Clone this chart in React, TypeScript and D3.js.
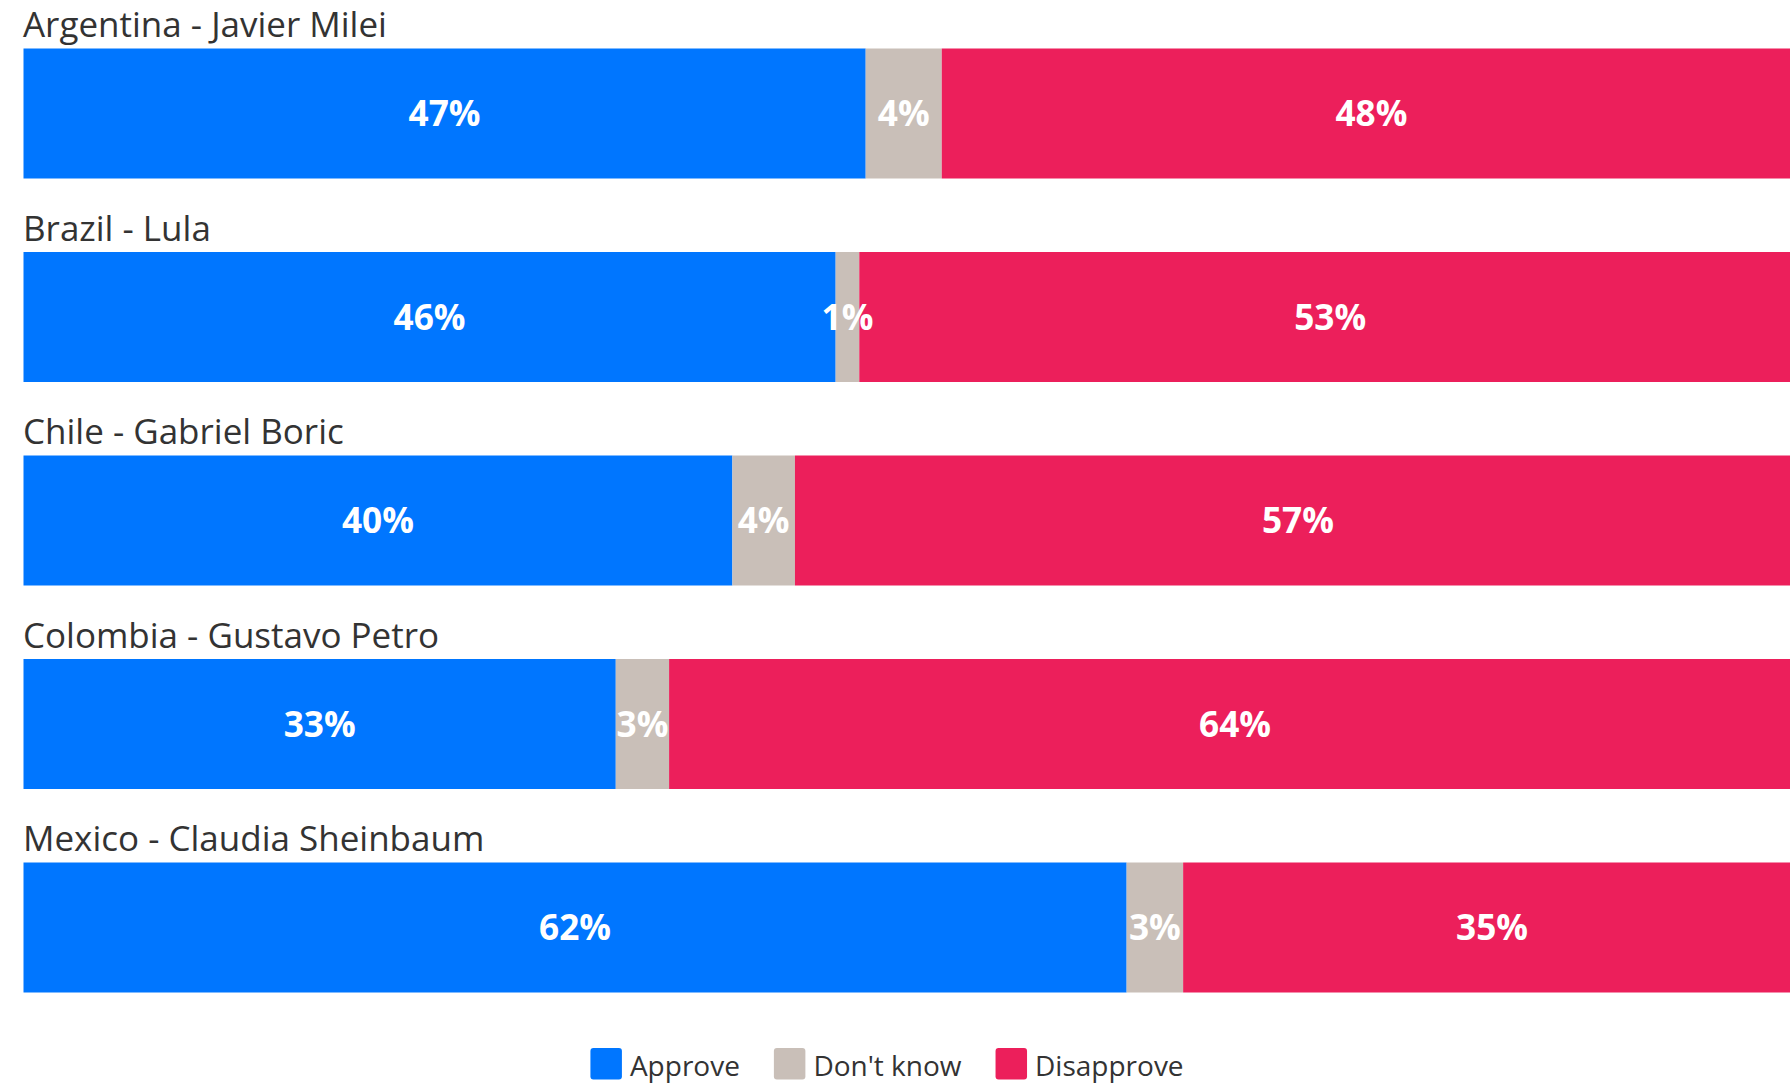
import React, { useEffect, useRef } from "react";
import * as d3 from "d3";

const categories = [
  "Argentina - Javier Milei",
  "Brazil - Lula",
  "Chile - Gabriel Boric",
  "Colombia - Gustavo Petro",
  "Mexico - Claudia Sheinbaum",
];
const approve = [47.38, 45.69, 39.88, 33.32, 62.06];
const dontKnow = [4.28, 1.33, 3.52, 3.0, 3.18];
const disapprove = [48.34, 52.98, 56.6, 63.68, 34.76];

const seriesNames = ["Approve", "Don't know", "Disapprove"];
const seriesColors = ["#0076ff", "#c9bfb8", "#ec1f5b"];

const W = 1790;
const H = 1085;
const FONT = "'Open Sans', 'Noto Sans', Lato, sans-serif";

// fit a font size so that the sample string has the target width
function fitSize(svg: any, sample: string, target: number, weight: number) {
  const t = svg
    .append("text")
    .attr("font-family", FONT)
    .attr("font-weight", weight)
    .attr("font-size", 30)
    .text(sample);
  const w = (t.node() as SVGTextElement).getComputedTextLength();
  t.remove();
  return w > 0 ? (30 * target) / w : 30;
}

export default function App() {
  const ref = useRef<SVGSVGElement | null>(null);

  useEffect(() => {
    const svg = d3.select(ref.current);
    svg.selectAll("*").remove();

    const titleSize = fitSize(svg, categories[0], 364, 400);
    const labelSize = fitSize(svg, "47%", 72, 700);
    const legendSize = fitSize(svg, "Approve", 110, 400);

    const rows = categories.map((c, i) => ({
      name: c,
      Approve: approve[i],
      "Don't know": dontKnow[i],
      Disapprove: disapprove[i],
    }));

    const stacked = d3.stack<any>().keys(seriesNames)(rows);

    const x = d3.scaleLinear().domain([0, 100]).range([23.5, 1801]);
    const pI = 73.5 / 203.5;
    const y = d3
      .scaleBand()
      .domain(categories)
      .range([48.5, 48.5 + 203.5 * categories.length])
      .paddingInner(pI)
      .paddingOuter(pI / 2)
      .align(0);
    const color = d3.scaleOrdinal<string, string>().domain(seriesNames).range(seriesColors);

    const g = svg.append("g");

    g.selectAll("text.title")
      .data(categories)
      .join("text")
      .attr("class", "title")
      .attr("x", 23)
      .attr("y", (d) => (y(d) as number) - 11.5)
      .attr("font-family", FONT)
      .attr("font-size", titleSize)
      .attr("fill", "#333333")
      .text((d) => d);

    const layer = g
      .selectAll("g.layer")
      .data(stacked)
      .join("g")
      .attr("class", "layer")
      .attr("fill", (d) => color(d.key));

    layer
      .selectAll("rect")
      .data((d) => d)
      .join("rect")
      .attr("x", (d) => x(d[0]))
      .attr("y", (d) => y(d.data.name) as number)
      .attr("width", (d) => x(d[1]) - x(d[0]))
      .attr("height", y.bandwidth());

    const labels = g.append("g");
    stacked.forEach((s) => {
      labels
        .selectAll(null)
        .data(s)
        .join("text")
        .attr("x", (d) => (x(d[0]) + x(d[1])) / 2)
        .attr("y", (d) => (y(d.data.name) as number) + y.bandwidth() / 2)
        .attr("dy", "0.36em")
        .attr("text-anchor", "middle")
        .attr("font-family", FONT)
        .attr("font-weight", 700)
        .attr("font-size", labelSize)
        .attr("fill", "#ffffff")
        .text((d) => `${Math.round(d[1] - d[0])}%`);
    });

    const legend = svg.append("g");
    const items = legend.selectAll("g").data(seriesNames).join("g");
    const sq = 31.5;
    const textOff = sq + 8;
    items
      .append("rect")
      .attr("x", 0)
      .attr("y", 1048)
      .attr("width", sq)
      .attr("height", sq)
      .attr("rx", 3)
      .attr("fill", (d) => color(d));
    items
      .append("text")
      .attr("x", textOff)
      .attr("y", 1075.5)
      .attr("font-family", FONT)
      .attr("font-size", legendSize)
      .attr("fill", "#333333")
      .text((d) => d);

    const widths: number[] = [];
    items.each(function () {
      const t = d3.select(this).select("text").node() as SVGTextElement;
      widths.push(textOff + t.getComputedTextLength());
    });
    const gap = 34;
    const total = d3.sum(widths) + gap * (widths.length - 1);
    let cx = 887 - total / 2;
    items.attr("transform", (_d, i) => {
      const tx = cx;
      cx += widths[i] + gap;
      return `translate(${tx},0)`;
    });
  }, []);

  return (
    <svg
      ref={ref}
      width={W}
      height={H}
      style={{ position: "absolute", left: 0, top: 0, background: "#ffffff" }}
    />
  );
}
